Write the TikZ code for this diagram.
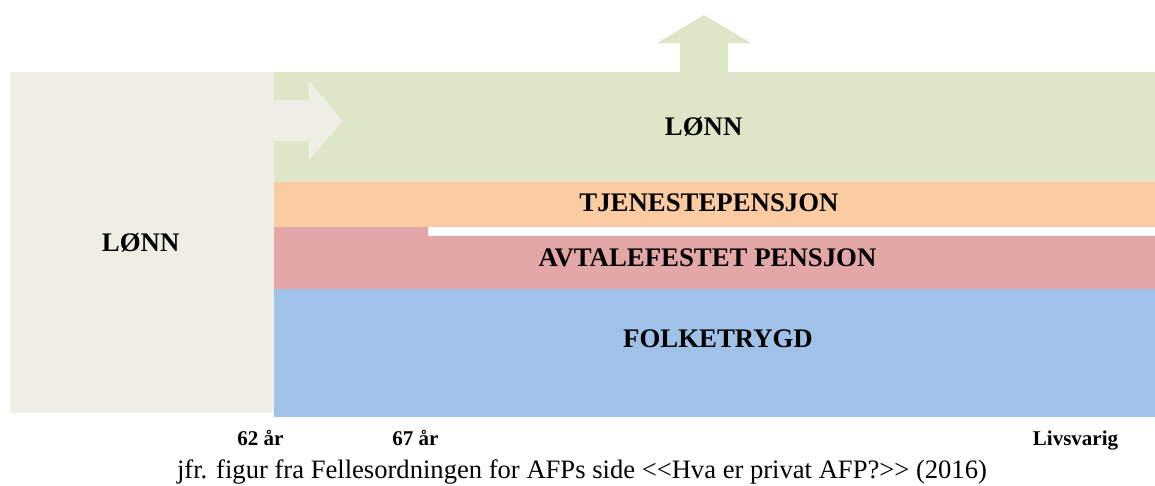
\documentclass[tikz,border=0pt]{standalone}
\usepackage{fontspec}
\setmainfont{Liberation Serif}
\definecolor{lgrey}{HTML}{EFEEE5}
\definecolor{lgreen}{HTML}{DEE6C8}
\definecolor{lorange}{HTML}{FBCBA2}
\definecolor{lred}{HTML}{E2A7A6}
\definecolor{lblue}{HTML}{A0C2E9}
\tikzset{
  band/.style={draw=none},
  biglabel/.style={anchor=base, inner sep=0pt, font=\bfseries\fontsize{26.8}{30}\selectfont},
  axislabel/.style={anchor=base, inner sep=0pt, font=\bfseries\fontsize{21}{25}\selectfont},
  caption/.style={anchor=base, inner sep=0pt, font=\fontsize{26.6}{30}\selectfont}
}
\begin{document}
\begin{tikzpicture}[x=1pt,y=-1pt]
\useasboundingbox (0,0) rectangle (1155,485);
% bands
\fill[lgrey] (10,72) rectangle (274,413);
\fill[lgreen] (274,72) rectangle (1155,182);
\fill[lorange] (274,182) rectangle (1155,227);
\fill[lred] (274,227) -- (428,227) -- (428,236) -- (1155,236) -- (1155,289) -- (274,289) -- cycle;
\fill[lblue] (274,289) rectangle (1155,417);
% up arrow
\fill[lgreen] (680,72) -- (680,43.3) -- (656.7,43.3) -- (704,15) -- (751.3,43.3) -- (728,43.3) -- (728,72) -- cycle;
% right arrow
\fill[lgrey] (274,100) -- (308.7,100) -- (308.7,80.7) -- (342.7,120.7) -- (308.7,160.7) -- (308.7,141.3) -- (274,141.3) -- cycle;
% labels
\node[biglabel] (lonnleft) at (140.7,251.7) {LØNN};
\node[biglabel] (lonn) at (703.7,135) {LØNN};
\node[biglabel] (tjp) at (709,211.7) {TJENESTEPENSJON};
\node[biglabel] (afp) at (707.5,266.7) {AVTALEFESTET PENSJON};
\node[biglabel] (ftr) at (718,347.3) {FOLKETRYGD};
\node[axislabel] (a62) at (260.5,445.5) {62 år};
\node[axislabel] (a67) at (415.5,445.5) {67 år};
\node[axislabel] (liv) at (1075.5,445.5) {Livsvarig};
\node[caption] (cap) at (582,478.3) {jfr. figur fra Fellesordningen for AFPs side <\kern0pt<Hva er privat AFP?>\kern0pt> (2016)};
\end{tikzpicture}
\end{document}
